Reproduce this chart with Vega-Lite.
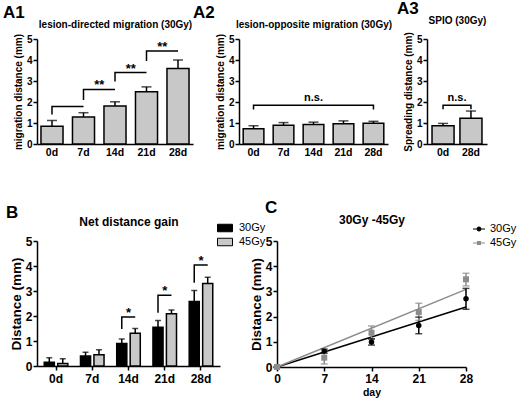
{
  "$schema": "https://vega.github.io/schema/vega-lite/v6.json",
  "padding": {"left": 3, "top": 0, "right": 0, "bottom": 0},
  "bounds": "flush",
  "spacing": 202,
  "resolve": {"scale": {"fill": "independent", "color": "independent", "shape": "independent"}},
  "config": {
    "font": "Liberation Sans",
    "view": {"stroke": null},
    "axis": {"domainColor": "black", "domainWidth": 1.5, "tickColor": "black", "tickWidth": 1.5, "tickSize": 4, "labelColor": "black", "labelFontWeight": "bold", "labelFontSize": 10, "titleColor": "black", "titleFontWeight": "bold", "titleFontSize": 10, "grid": false, "labelPadding": 1, "titlePadding": 3, "labelOverlap": false},
    "title": {"fontSize": 17, "fontWeight": "bold", "anchor": "start", "frame": "group", "color": "black"}
  },
  "datasets": {
    "pts": [
      {"day": 0, "grp": "30Gy", "mean": 0, "lo": 0, "hi": 0},
      {"day": 7, "grp": "30Gy", "mean": 0.63, "lo": 0.55, "hi": 0.71},
      {"day": 14, "grp": "30Gy", "mean": 0.99, "lo": 0.87, "hi": 1.12},
      {"day": 21, "grp": "30Gy", "mean": 1.65, "lo": 1.32, "hi": 1.98},
      {"day": 28, "grp": "30Gy", "mean": 2.71, "lo": 2.29, "hi": 3.12},
      {"day": 0, "grp": "45Gy", "mean": 0, "lo": 0, "hi": 0},
      {"day": 7, "grp": "45Gy", "mean": 0.37, "lo": 0.12, "hi": 0.68},
      {"day": 14, "grp": "45Gy", "mean": 1.36, "lo": 1.1, "hi": 1.63},
      {"day": 21, "grp": "45Gy", "mean": 2.18, "lo": 1.85, "hi": 2.53},
      {"day": 28, "grp": "45Gy", "mean": 3.48, "lo": 3.22, "hi": 3.72}
    ]
  },
  "vconcat": [
    {
      "bounds": "flush",
      "spacing": 46,
      "hconcat": [
        {
          "width": 156, "height": 105,
          "title": {"text": "A1", "dx": -34, "offset": -3},
          "resolve": {"axis": {"x": "independent", "y": "independent"}},
          "data": {"values": [
            {"t": "0d", "mean": 0.85, "upper": 1.12},
            {"t": "7d", "mean": 1.28, "upper": 1.49},
            {"t": "14d", "mean": 1.81, "upper": 2.01},
            {"t": "21d", "mean": 2.49, "upper": 2.72},
            {"t": "28d", "mean": 3.59, "upper": 4.0}
          ]},
          "layer": [
            {"mark": {"type": "bar", "fill": "#c8c8c8", "stroke": "black", "strokeWidth": 1.5},
             "encoding": {
               "x": {"field": "t", "type": "nominal", "scale": {"domain": ["0d","7d","14d","21d","28d"], "paddingInner": 0.3, "paddingOuter": 0.126}, "axis": {"title": null, "ticks": false, "labelAngle": 0, "labelFontSize": 10.5, "labelPadding": 3}},
               "y": {"field": "mean", "type": "quantitative", "scale": {"domain": [0, 5]}, "axis": {"title": "migration distance (mm)", "values": [0,1,2,3,4,5], "tickCount": 6, "format": "d"}}
             }},
            {"mark": {"type": "rule", "color": "black", "strokeWidth": 1.5},
             "encoding": {
               "x": {"field": "t", "type": "nominal", "scale": {"domain": ["0d","7d","14d","21d","28d"]}, "axis": {"orient": "top", "title": "lesion-directed migration (30Gy)", "domain": false, "ticks": false, "labels": false, "titlePadding": 10}},
               "y": {"field": "mean", "type": "quantitative", "axis": null},
               "y2": {"field": "upper"}
             }},
            {"mark": {"type": "tick", "color": "black", "thickness": 1.5, "size": 10, "orient": "horizontal"},
             "encoding": {
               "x": {"field": "t", "type": "nominal", "scale": {"domain": ["0d","7d","14d","21d","28d"]}, "axis": null},
               "y": {"field": "upper", "type": "quantitative", "axis": null}
             }},
            {"data": {"values": [
              {"id": "b1", "k": 0, "t": "0d", "y": 1.4}, {"id": "b1", "k": 1, "t": "0d", "y": 1.78}, {"id": "b1", "k": 2, "t": "7d", "y": 1.78},
              {"id": "b2", "k": 0, "t": "7d", "y": 2.1}, {"id": "b2", "k": 1, "t": "7d", "y": 2.6}, {"id": "b2", "k": 2, "t": "14d", "y": 2.6},
              {"id": "b3", "k": 0, "t": "14d", "y": 2.98}, {"id": "b3", "k": 1, "t": "14d", "y": 3.4}, {"id": "b3", "k": 2, "t": "21d", "y": 3.4},
              {"id": "b4", "k": 0, "t": "21d", "y": 3.95}, {"id": "b4", "k": 1, "t": "21d", "y": 4.43}, {"id": "b4", "k": 2, "t": "28d", "y": 4.43}
             ]},
             "mark": {"type": "line", "color": "black", "strokeWidth": 1.5},
             "encoding": {
               "x": {"field": "t", "type": "nominal", "scale": {"domain": ["0d","7d","14d","21d","28d"]}, "axis": null},
               "y": {"field": "y", "type": "quantitative", "axis": null},
               "detail": {"field": "id"},
               "order": {"field": "k"}
             }},
            {"data": {"values": [
              {"t": "14d", "y": 2.6, "label": "**"},
              {"t": "21d", "y": 3.4, "label": "**"},
              {"t": "28d", "y": 4.43, "label": "**"}
             ]},
             "mark": {"type": "text", "fontSize": 13, "fontWeight": "bold", "baseline": "alphabetic", "color": "black"},
             "encoding": {
               "x": {"field": "t", "type": "nominal", "scale": {"domain": ["0d","7d","14d","21d","28d"]}, "axis": null, "bandPosition": -0.214},
               "y": {"field": "y", "type": "quantitative", "axis": null},
               "text": {"field": "label"}
             }}
          ]
        },
        {
          "bounds": "flush",
          "spacing": 39,
          "hconcat": [
            {
              "width": 149, "height": 105,
              "title": {"text": "A2", "dx": -46, "offset": -3},
              "resolve": {"axis": {"x": "independent", "y": "independent"}},
              "data": {"values": [
                {"t": "0d", "mean": 0.73, "upper": 0.87},
                {"t": "7d", "mean": 0.89, "upper": 1.02},
                {"t": "14d", "mean": 0.93, "upper": 1.04},
                {"t": "21d", "mean": 0.96, "upper": 1.1},
                {"t": "28d", "mean": 0.99, "upper": 1.08}
              ]},
              "layer": [
                {"mark": {"type": "bar", "fill": "#c8c8c8", "stroke": "black", "strokeWidth": 1.5},
                 "encoding": {
                   "x": {"field": "t", "type": "nominal", "scale": {"domain": ["0d","7d","14d","21d","28d"], "paddingInner": 0.31, "paddingOuter": 0.14}, "axis": {"title": null, "ticks": false, "labelAngle": 0, "labelFontSize": 10.5, "labelPadding": 3}},
                   "y": {"field": "mean", "type": "quantitative", "scale": {"domain": [0, 5]}, "axis": {"title": "migration distance (mm)", "values": [0,1,2,3,4,5], "tickCount": 6, "format": "d"}}
                 }},
                {"mark": {"type": "rule", "color": "black", "strokeWidth": 1.5},
                 "encoding": {
                   "x": {"field": "t", "type": "nominal", "scale": {"domain": ["0d","7d","14d","21d","28d"]}, "axis": {"orient": "top", "title": "lesion-opposite migration (30Gy)", "domain": false, "ticks": false, "labels": false, "titlePadding": 10}},
                   "y": {"field": "mean", "type": "quantitative", "axis": null},
                   "y2": {"field": "upper"}
                 }},
                {"mark": {"type": "tick", "color": "black", "thickness": 1.5, "size": 10, "orient": "horizontal"},
                 "encoding": {
                   "x": {"field": "t", "type": "nominal", "scale": {"domain": ["0d","7d","14d","21d","28d"]}, "axis": null},
                   "y": {"field": "upper", "type": "quantitative", "axis": null}
                 }},
                {"data": {"values": [
                  {"id": "ns", "k": 0, "t": "0d", "y": 1.64}, {"id": "ns", "k": 1, "t": "0d", "y": 1.84},
                  {"id": "ns", "k": 2, "t": "28d", "y": 1.84}, {"id": "ns", "k": 3, "t": "28d", "y": 1.64}
                 ]},
                 "mark": {"type": "line", "color": "black", "strokeWidth": 1.5},
                 "encoding": {
                   "x": {"field": "t", "type": "nominal", "scale": {"domain": ["0d","7d","14d","21d","28d"]}, "axis": null},
                   "y": {"field": "y", "type": "quantitative", "axis": null},
                   "detail": {"field": "id"},
                   "order": {"field": "k"}
                 }},
                {"data": {"values": [{"t": "14d", "y": 2.07, "label": "n.s."}]},
                 "mark": {"type": "text", "fontSize": 11, "fontWeight": "bold", "baseline": "alphabetic", "color": "black"},
                 "encoding": {
                   "x": {"field": "t", "type": "nominal", "scale": {"domain": ["0d","7d","14d","21d","28d"]}, "axis": null},
                   "y": {"field": "y", "type": "quantitative", "axis": null},
                   "text": {"field": "label"}
                 }}
              ]
            },
            {
              "width": 60, "height": 105,
              "title": {"text": "A3", "dx": -30, "offset": -3},
              "resolve": {"axis": {"x": "independent", "y": "independent"}},
              "data": {"values": [
                {"t": "0d", "mean": 0.87, "upper": 0.98},
                {"t": "28d", "mean": 1.23, "upper": 1.57}
              ]},
              "layer": [
                {"mark": {"type": "bar", "fill": "#c8c8c8", "stroke": "black", "strokeWidth": 1.5},
                 "encoding": {
                   "x": {"field": "t", "type": "nominal", "scale": {"domain": ["0d","28d"], "paddingInner": 0.21, "paddingOuter": 0.18}, "axis": {"title": null, "ticks": false, "labelAngle": 0, "labelFontSize": 10.5, "labelPadding": 3}},
                   "y": {"field": "mean", "type": "quantitative", "scale": {"domain": [0, 5]}, "axis": {"title": "Spreading distance (mm)", "values": [0,1,2,3,4,5], "tickCount": 6, "format": "d"}}
                 }},
                {"mark": {"type": "rule", "color": "black", "strokeWidth": 1.5},
                 "encoding": {
                   "x": {"field": "t", "type": "nominal", "scale": {"domain": ["0d","28d"]}, "axis": {"orient": "top", "title": "SPIO (30Gy)", "domain": false, "ticks": false, "labels": false, "titlePadding": 14}},
                   "y": {"field": "mean", "type": "quantitative", "axis": null},
                   "y2": {"field": "upper"}
                 }},
                {"mark": {"type": "tick", "color": "black", "thickness": 1.5, "size": 10, "orient": "horizontal"},
                 "encoding": {
                   "x": {"field": "t", "type": "nominal", "scale": {"domain": ["0d","28d"]}, "axis": null},
                   "y": {"field": "upper", "type": "quantitative", "axis": null}
                 }},
                {"data": {"values": [
                  {"id": "ns", "k": 0, "t": "0d", "y": 1.66}, {"id": "ns", "k": 1, "t": "0d", "y": 1.84},
                  {"id": "ns", "k": 2, "t": "28d", "y": 1.84}, {"id": "ns", "k": 3, "t": "28d", "y": 1.66}
                 ]},
                 "mark": {"type": "line", "color": "black", "strokeWidth": 1.5},
                 "encoding": {
                   "x": {"field": "t", "type": "nominal", "scale": {"domain": ["0d","28d"]}, "axis": null},
                   "y": {"field": "y", "type": "quantitative", "axis": null},
                   "detail": {"field": "id"},
                   "order": {"field": "k"}
                 }},
                {"data": {"values": [{"t": "28d", "y": 2.05, "label": "n.s."}]},
                 "mark": {"type": "text", "fontSize": 11, "fontWeight": "bold", "baseline": "alphabetic", "color": "black"},
                 "encoding": {
                   "x": {"field": "t", "type": "nominal", "scale": {"domain": ["0d","28d"]}, "axis": null, "bandPosition": -0.133},
                   "y": {"field": "y", "type": "quantitative", "axis": null},
                   "text": {"field": "label"}
                 }}
              ]
            }
          ]
        }
      ]
    },
    {
      "bounds": "flush",
      "spacing": 57,
      "resolve": {"scale": {"fill": "independent", "color": "independent", "shape": "independent"}},
      "hconcat": [
        {
          "width": 183, "height": 125,
          "title": {"text": "B", "dx": -31, "offset": -7},
          "resolve": {"axis": {"x": "independent", "y": "independent"}},
          "data": {"values": [
            {"t": "0d", "grp": "30Gy", "mean": 0.15, "upper": 0.33},
            {"t": "0d", "grp": "45Gy", "mean": 0.10, "upper": 0.29},
            {"t": "7d", "grp": "30Gy", "mean": 0.40, "upper": 0.55},
            {"t": "7d", "grp": "45Gy", "mean": 0.45, "upper": 0.65},
            {"t": "14d", "grp": "30Gy", "mean": 0.90, "upper": 1.08},
            {"t": "14d", "grp": "45Gy", "mean": 1.31, "upper": 1.50},
            {"t": "21d", "grp": "30Gy", "mean": 1.55, "upper": 1.82},
            {"t": "21d", "grp": "45Gy", "mean": 2.09, "upper": 2.24},
            {"t": "28d", "grp": "30Gy", "mean": 2.58, "upper": 3.02},
            {"t": "28d", "grp": "45Gy", "mean": 3.30, "upper": 3.55}
          ]},
          "layer": [
            {"mark": {"type": "bar", "stroke": "black", "strokeWidth": 1.5},
             "encoding": {
               "x": {"field": "t", "type": "nominal", "scale": {"domain": ["0d","7d","14d","21d","28d"], "paddingInner": 0.35, "paddingOuter": 0.2}, "axis": {"title": null, "labelAngle": 0, "labelFontSize": 12, "labelPadding": 3}},
               "xOffset": {"field": "grp", "type": "nominal", "scale": {"domain": ["30Gy","45Gy"], "paddingInner": 0.25}},
               "y": {"field": "mean", "type": "quantitative", "scale": {"domain": [0, 5]}, "axis": {"title": "Distance (mm)", "values": [0,1,2,3,4,5], "tickCount": 6, "format": "d", "labelFontSize": 12, "titleFontSize": 13.5, "titlePadding": 2}},
               "fill": {"field": "grp", "type": "nominal", "scale": {"domain": ["30Gy","45Gy"], "range": ["black", "#c8c8c8"]},
                        "legend": {"title": null, "orient": "none", "legendX": 180, "legendY": -21, "symbolType": "M-1,-0.5H1V0.5H-1Z", "symbolSize": 225, "symbolStrokeColor": "black", "symbolStrokeWidth": 1, "labelFontSize": 11, "labelFontWeight": "normal", "labelColor": "black", "labelOffset": 6, "rowPadding": 0}}
             }},
            {"mark": {"type": "rule", "color": "black", "strokeWidth": 1.5},
             "encoding": {
               "x": {"field": "t", "type": "nominal", "scale": {"domain": ["0d","7d","14d","21d","28d"]}, "axis": {"orient": "top", "title": "Net distance gain", "titleFontSize": 12, "domain": false, "ticks": false, "labels": false, "titlePadding": 13}},
               "xOffset": {"field": "grp", "type": "nominal", "scale": {"domain": ["30Gy","45Gy"]}},
               "y": {"field": "mean", "type": "quantitative", "axis": null},
               "y2": {"field": "upper"}
             }},
            {"mark": {"type": "tick", "color": "black", "thickness": 1.5, "size": 6, "orient": "horizontal"},
             "encoding": {
               "x": {"field": "t", "type": "nominal", "scale": {"domain": ["0d","7d","14d","21d","28d"]}, "axis": null},
               "xOffset": {"field": "grp", "type": "nominal", "scale": {"domain": ["30Gy","45Gy"]}},
               "y": {"field": "upper", "type": "quantitative", "axis": null}
             }},
            {"data": {"values": [
              {"id": "b14", "k": 0, "t": "14d", "grp": "30Gy", "y": 1.48}, {"id": "b14", "k": 1, "t": "14d", "grp": "30Gy", "y": 1.96}, {"id": "b14", "k": 2, "t": "14d", "grp": "45Gy", "y": 1.96},
              {"id": "b21", "k": 0, "t": "21d", "grp": "30Gy", "y": 2.13}, {"id": "b21", "k": 1, "t": "21d", "grp": "30Gy", "y": 2.83}, {"id": "b21", "k": 2, "t": "21d", "grp": "45Gy", "y": 2.83},
              {"id": "b28", "k": 0, "t": "28d", "grp": "30Gy", "y": 3.33}, {"id": "b28", "k": 1, "t": "28d", "grp": "30Gy", "y": 4.04}, {"id": "b28", "k": 2, "t": "28d", "grp": "45Gy", "y": 4.04}
             ]},
             "mark": {"type": "line", "color": "black", "strokeWidth": 1.5},
             "encoding": {
               "x": {"field": "t", "type": "nominal", "scale": {"domain": ["0d","7d","14d","21d","28d"]}, "axis": null},
               "xOffset": {"field": "grp", "type": "nominal", "scale": {"domain": ["30Gy","45Gy"]}},
               "y": {"field": "y", "type": "quantitative", "axis": null},
               "detail": {"field": "id"},
               "order": {"field": "k"}
             }},
            {"data": {"values": [
              {"t": "14d", "y": 1.96, "label": "*"},
              {"t": "21d", "y": 2.83, "label": "*"},
              {"t": "28d", "y": 4.04, "label": "*"}
             ]},
             "mark": {"type": "text", "fontSize": 13, "fontWeight": "bold", "baseline": "alphabetic", "color": "black"},
             "encoding": {
               "x": {"field": "t", "type": "nominal", "scale": {"domain": ["0d","7d","14d","21d","28d"]}, "axis": null},
               "y": {"field": "y", "type": "quantitative", "axis": null},
               "text": {"field": "label"}
             }}
          ]
        },
        {
          "width": 189, "height": 126,
          "title": {"text": "C", "dx": -12, "offset": -4},
          "resolve": {"axis": {"x": "independent", "y": "independent"}},
          "layer": [
            {"data": {"values": [
              {"grp": "30Gy", "day": 0, "fit": 0}, {"grp": "30Gy", "day": 28, "fit": 2.38},
              {"grp": "45Gy", "day": 0, "fit": 0}, {"grp": "45Gy", "day": 28, "fit": 3.08}
             ]},
             "mark": {"type": "line", "strokeWidth": 1.5},
             "encoding": {
               "x": {"field": "day", "type": "quantitative", "scale": {"domain": [0, 28]}, "axis": {"title": "day", "values": [0,7,14,21,28], "tickCount": 6, "format": "d", "labelFlush": false, "labelFontSize": 12, "titleFontSize": 10.5, "labelPadding": 2, "titlePadding": 3}},
               "y": {"field": "fit", "type": "quantitative", "scale": {"domain": [0, 5]}, "axis": {"title": "Distance (mm)", "values": [0,1,2,3,4,5], "tickCount": 6, "format": "d", "labelFontSize": 12, "titleFontSize": 13.5, "titlePadding": 2}},
               "color": {"field": "grp", "type": "nominal", "scale": {"range": ["black", "#8c8c8c"]}, "legend": null}
             }},
            {"data": {"name": "pts"},
             "mark": {"type": "rule", "strokeWidth": 1.5},
             "encoding": {
               "x": {"field": "day", "type": "quantitative", "axis": {"orient": "top", "title": "30Gy -45Gy", "titleFontSize": 12, "domain": false, "ticks": false, "labels": false, "titlePadding": 15}},
               "y": {"field": "lo", "type": "quantitative", "axis": null},
               "y2": {"field": "hi"},
               "color": {"field": "grp", "type": "nominal", "legend": null}
             }},
            {"data": {"name": "pts"},
             "mark": {"type": "tick", "thickness": 1.5, "size": 7, "orient": "horizontal"},
             "encoding": {
               "x": {"field": "day", "type": "quantitative", "axis": null},
               "y": {"field": "lo", "type": "quantitative", "axis": null},
               "color": {"field": "grp", "type": "nominal", "legend": null}
             }},
            {"data": {"name": "pts"},
             "mark": {"type": "tick", "thickness": 1.5, "size": 7, "orient": "horizontal"},
             "encoding": {
               "x": {"field": "day", "type": "quantitative", "axis": null},
               "y": {"field": "hi", "type": "quantitative", "axis": null},
               "color": {"field": "grp", "type": "nominal", "legend": null}
             }},
            {"data": {"name": "pts"},
             "transform": [{"filter": "datum.grp === '30Gy'"}],
             "mark": {"type": "point", "shape": "circle", "filled": true, "size": 30, "color": "black", "opacity": 1},
             "encoding": {
               "x": {"field": "day", "type": "quantitative", "axis": null},
               "y": {"field": "mean", "type": "quantitative", "axis": null}
             }},
            {"data": {"name": "pts"},
             "transform": [{"filter": "datum.grp === '45Gy'"}],
             "mark": {"type": "point", "shape": "square", "filled": true, "size": 36, "color": "#8c8c8c", "opacity": 1},
             "encoding": {
               "x": {"field": "day", "type": "quantitative", "axis": null},
               "y": {"field": "mean", "type": "quantitative", "axis": null}
             }},
            {"data": {"name": "pts"},
             "transform": [{"filter": "datum.day < 0"}],
             "mark": {"type": "point", "filled": true, "opacity": 1},
             "encoding": {
               "x": {"field": "day", "type": "quantitative", "axis": null},
               "y": {"field": "mean", "type": "quantitative", "axis": null},
               "fill": {"field": "grp", "type": "nominal", "scale": {"domain": ["30Gy","45Gy"], "range": ["black", "#8c8c8c"]},
                        "legend": {"title": null, "orient": "none", "legendX": 196, "legendY": -18, "symbolSize": 144, "symbolStrokeWidth": 0, "symbolOpacity": 1, "labelFontSize": 11, "labelFontWeight": "normal", "labelColor": "black", "labelOffset": 5, "rowPadding": 3}},
               "shape": {"field": "grp", "type": "nominal", "scale": {"domain": ["30Gy","45Gy"], "range": ["M-1,-0.09H1V0.09H-1Z M0.4,0A0.4,0.4 0 1 1 -0.4,0A0.4,0.4 0 1 1 0.4,0Z", "M-1,-0.09H1V0.09H-1Z M-0.33,-0.33H0.33V0.33H-0.33Z"]},
                        "legend": {"title": null, "orient": "none", "legendX": 196, "legendY": -18, "symbolSize": 144, "symbolStrokeWidth": 0, "symbolOpacity": 1, "labelFontSize": 11, "labelFontWeight": "normal", "labelColor": "black", "labelOffset": 5, "rowPadding": 3}}
             }}
          ]
        }
      ]
    }
  ]
}
